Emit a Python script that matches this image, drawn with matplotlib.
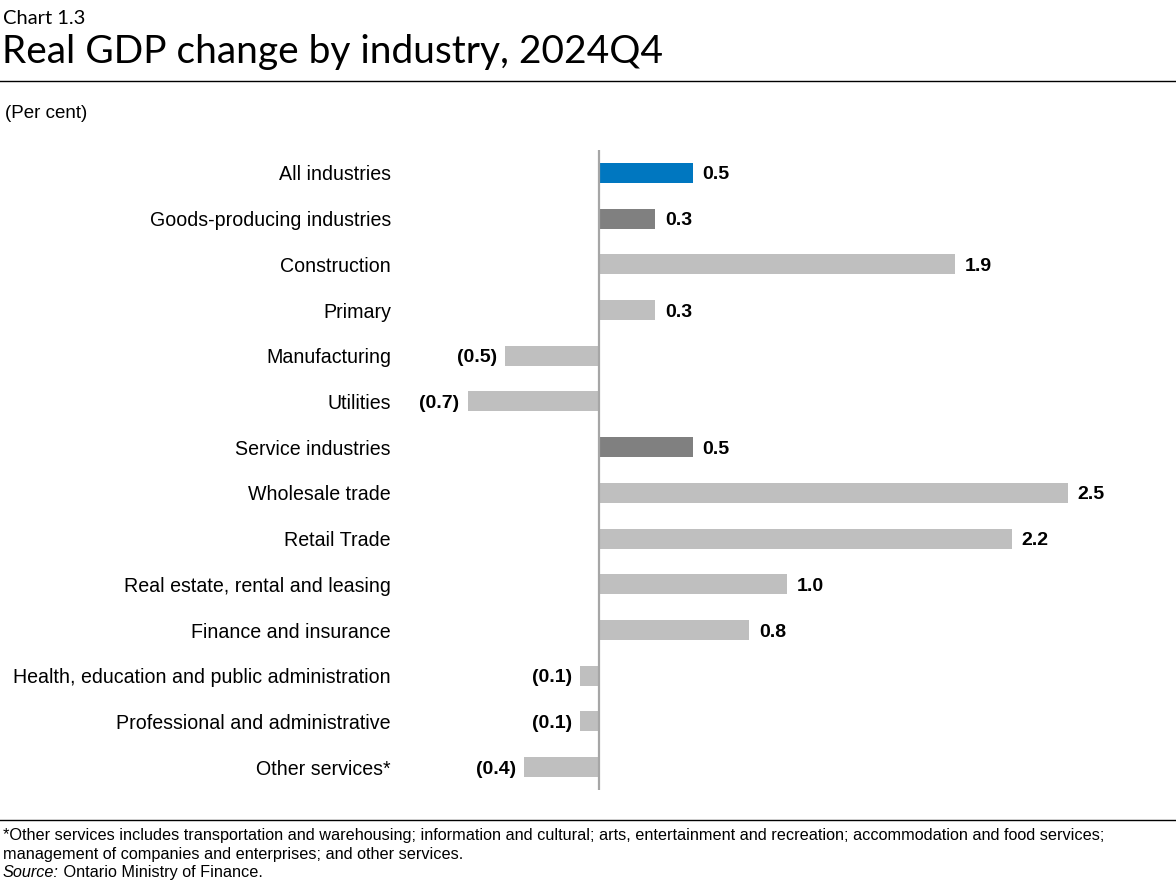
import matplotlib
matplotlib.use("Agg")
import matplotlib.pyplot as plt
from matplotlib.lines import Line2D

categories = ["All industries", "Goods-producing industries", "Construction", "Primary",
              "Manufacturing", "Utilities", "Service industries", "Wholesale trade",
              "Retail Trade", "Real estate, rental and leasing", "Finance and insurance",
              "Health, education and public administration", "Professional and administrative",
              "Other services*"]
values = [0.5, 0.3, 1.9, 0.3, -0.5, -0.7, 0.5, 2.5, 2.2, 1.0, 0.8, -0.1, -0.1, -0.4]
kinds = ["total", "group", "sub", "sub", "sub", "sub", "group", "sub", "sub", "sub", "sub", "sub", "sub", "sub"]
colors = {"total": "#0077C0", "group": "#808080", "sub": "#BFBFBF"}

NARROW = ["Liberation Sans Narrow", "Liberation Sans", "DejaVu Sans"]
plt.rcParams["font.family"] = NARROW

W, H = 1176, 888
fig = plt.figure(figsize=(W / 100, H / 100), dpi=100)

ax_l, ax_r, ax_t, ax_b = 400, 1130, 150, 790
ax = fig.add_axes([ax_l / W, (H - ax_b) / H, (ax_r - ax_l) / W, (ax_b - ax_t) / H])
ppu = 187.6
zero_px = 599
ax.set_xlim(-(zero_px - ax_l) / ppu, (ax_r - zero_px) / ppu)
n = len(categories)
ax.set_ylim(n - 0.5, -0.5)

ypos = list(range(n))
ax.barh(ypos, values, height=0.44, color=[colors[k] for k in kinds], zorder=2)
ax.axvline(0, color="#A6A6A6", lw=1.6, zorder=3)

for y, v in zip(ypos, values):
    txt = f"{v:.1f}" if v >= 0 else f"({abs(v):.1f})"
    if v >= 0:
        ax.annotate(txt, (v, y), xytext=(7, 0), textcoords="offset points",
                    ha="left", va="center_baseline", fontsize=14, fontweight="bold", color="black")
    else:
        ax.annotate(txt, (v, y), xytext=(-6, 0), textcoords="offset points",
                    ha="right", va="center_baseline", fontsize=14, fontweight="bold", color="black")

ax.set_yticks(ypos)
ax.set_yticklabels(categories, fontsize=14.1, color="black")
ax.tick_params(axis="y", length=0, pad=6.5)
ax.set_xticks([])
for s in ax.spines.values():
    s.set_visible(False)

# Titles
fig.text(3 / W, 1 - 18 / H, "Chart 1.3", family=["Lato", "DejaVu Sans"], fontsize=14.5, va="center", ha="left")
fig.text(2 / W, 1 - 52 / H, "Real GDP change by industry, 2024Q4", family=["Lato", "DejaVu Sans"],
         fontsize=28, va="center", ha="left")
fig.add_artist(Line2D([0, 1], [1 - 81 / H, 1 - 81 / H], color="black", lw=1, transform=fig.transFigure))
fig.text(5 / W, 1 - 113 / H, "(Per cent)", fontsize=13.5, va="center", ha="left")

# Footnote
fig.add_artist(Line2D([0, 1], [1 - 820 / H, 1 - 820 / H], color="black", lw=1, transform=fig.transFigure))
fig.text(3 / W, 1 - 835 / H,
         "*Other services includes transportation and warehousing; information and cultural; arts, entertainment and recreation; accommodation and food services;",
         fontsize=11.7, va="center", ha="left")
fig.text(3 / W, 1 - 854 / H, "management of companies and enterprises; and other services.",
         fontsize=11.7, va="center", ha="left")
src = fig.text(3 / W, 1 - 872 / H, "Source:", fontsize=11.7, style="italic", va="center", ha="left")
fig.canvas.draw()
fig.text(0, 0, "") if False else None
ann = plt.annotate(" Ontario Ministry of Finance.", xy=(1, 0.5), xycoords=src,
                   va="center", ha="left", fontsize=11.7, annotation_clip=False)

fig.savefig("out.png", dpi=100)
